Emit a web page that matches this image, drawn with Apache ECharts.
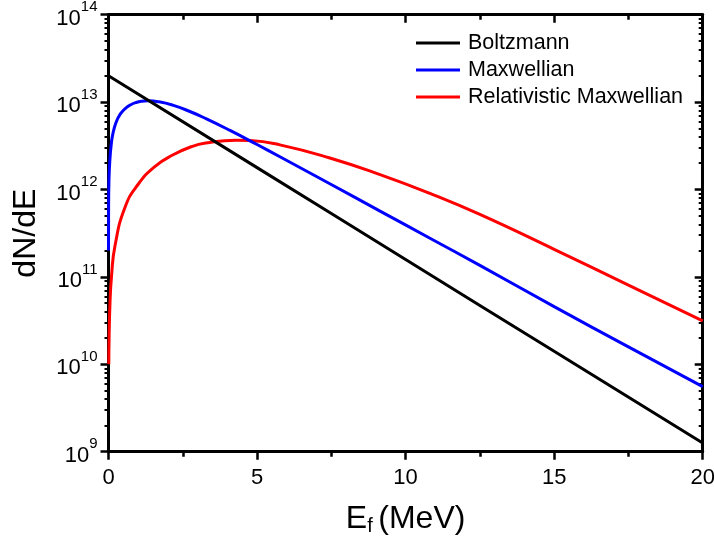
<!DOCTYPE html>
<html>
<head>
<meta charset="utf-8">
<script src="https://cdn.jsdelivr.net/npm/echarts@6/dist/echarts.min.js"></script>
<style>
  html, body { margin: 0; padding: 0; background: #fff; }
  #chart { width: 714px; height: 539px; }
</style>
</head>
<body>
<div id="chart"></div>
<script>
// ---- data ----
const boltzmannE = [0, 5, 10, 15, 20];
const boltzmannN = [2.0e13, 1.78e12, 1.58e11, 1.41e10, 1.26e9];

const maxwellE = [0.0004, 0.003, 0.015, 0.05, 0.1, 0.14, 0.25, 0.4, 0.59, 0.75, 0.93, 1.1, 1.32, 1.7, 2.16, 2.7, 3.28, 4.09, 5.0, 5.77, 7.45, 9.14, 10.82, 12.5, 15, 17.5, 20];
const maxwellN = [2.0e11, 5.6e11, 1.26e12, 2.29e12, 3.47e12, 4.22e12, 5.82e12, 7.33e12, 8.61e12, 9.33e12, 9.89e12, 1.021e13, 1.035e13, 1.007e13, 9.23e12, 7.91e12, 6.47e12, 4.74e12, 3.27e12, 2.37e12, 1.164e12, 5.66e11, 2.77e11, 1.355e11, 4.57e10, 1.585e10, 5.55e9];

const relE = [0.01, 0.02, 0.05, 0.1, 0.22, 0.56, 1.0, 1.57, 2.16, 2.8, 3.28, 4.29, 4.76, 5.77, 7.45, 9.14, 10.82, 12.5, 15, 17.5, 20];
const relN = [1.0e10, 2.0e10, 5.0e10, 1.0e11, 2.29e11, 6.31e11, 1.148e12, 1.84e12, 2.48e12, 3.10e12, 3.40e12, 3.66e12, 3.63e12, 3.24e12, 2.29e12, 1.48e12, 9.02e11, 5.19e11, 2.07e11, 8.04e10, 3.14e10];

const seriesNames = ['Boltzmann', 'Maxwellian', 'Relativistic Maxwellian'];
const seriesColors = ['#000000', '#0000ff', '#ff0000'];

const xMin = 0, xMax = 20, xInterval = 5;
const yMin = 1e9, yMax = 1e14;

const FONT = 'Liberation Sans, Arial, sans-serif';
const pairs = (xs, ys) => xs.map((x, i) => [x, ys[i]]);

const chart = echarts.init(document.getElementById('chart'), null, { renderer: 'canvas' });

const axisLine = { show: true, onZero: false, lineStyle: { color: '#000', width: 3 } };
const majorTick = (inside) => ({ show: true, inside: inside, length: 8, lineStyle: { color: '#000', width: 2.5 } });
const xMinor = { show: true, splitNumber: 2, length: 5, lineStyle: { color: '#000', width: 2.5 } };
const yMinor = { show: true, splitNumber: 9, length: 4, lineStyle: { color: '#000', width: 2 } };

const option = {
  animation: false,
  backgroundColor: '#ffffff',
  textStyle: { fontFamily: FONT },
  grid: { left: 108.5, right: 11.3, top: 14.7, bottom: 87.3, containLabel: false, outerBoundsMode: 'none' },
  legend: {
    orient: 'vertical',
    left: 416,
    top: 32,
    padding: 0,
    itemGap: 5,
    itemWidth: 44,
    itemHeight: 3,
    icon: 'rect',
    data: seriesNames,
    textStyle: { fontFamily: FONT, fontSize: 21.5, lineHeight: 21, color: '#000', padding: [0, 0, 0, 3] }
  },
  xAxis: [
    {
      type: 'value', position: 'bottom', min: xMin, max: xMax, interval: xInterval,
      axisLine: axisLine,
      axisTick: majorTick(false),
      minorTick: xMinor,
      splitLine: { show: false },
      axisLabel: { margin: 15, color: '#000', fontSize: 22, fontFamily: FONT },
      name: '{e|E}{f|f }{m|(MeV)}',
      nameLocation: 'middle',
      nameGap: 51,
      nameTextStyle: {
        color: '#000', fontFamily: FONT,
        rich: {
          e: { fontSize: 32, lineHeight: 32, verticalAlign: 'top', fontFamily: FONT, color: '#000' },
          f: { fontSize: 20, lineHeight: 20, verticalAlign: 'top', padding: [14, 0, 0, 0], fontFamily: FONT, color: '#000' },
          m: { fontSize: 32, lineHeight: 32, verticalAlign: 'top', fontFamily: FONT, color: '#000' }
        }
      }
    },
    {
      type: 'value', position: 'top', min: xMin, max: xMax, interval: xInterval,
      axisLine: axisLine,
      axisTick: majorTick(true),
      minorTick: xMinor,
      splitLine: { show: false },
      axisLabel: { show: false }
    }
  ],
  yAxis: [
    {
      type: 'log', logBase: 10, position: 'left', min: yMin, max: yMax,
      axisLine: axisLine,
      axisTick: majorTick(false),
      minorTick: yMinor,
      splitLine: { show: false },
      axisLabel: {
        margin: 11,
        formatter: function (v) {
          const e = Math.round(Math.log10(v));
          return '{b|10}{s|' + e + '}';
        },
        rich: {
          b: { fontSize: 22, lineHeight: 30, verticalAlign: 'bottom', color: '#000', fontFamily: FONT },
          s: { fontSize: 15, lineHeight: 15, verticalAlign: 'top', color: '#000', fontFamily: FONT }
        }
      },
      name: 'dN/dE',
      nameLocation: 'middle',
      nameGap: 66,
      nameRotate: 90,
      nameTextStyle: { fontSize: 32, lineHeight: 32, color: '#000', fontFamily: FONT }
    },
    {
      type: 'log', logBase: 10, position: 'right', min: yMin, max: yMax,
      axisLine: axisLine,
      axisTick: majorTick(true),
      minorTick: yMinor,
      axisLabel: { show: false },
      splitLine: { show: false }
    }
  ],
  series: [
    { name: seriesNames[0], data: pairs(boltzmannE, boltzmannN) },
    { name: seriesNames[1], data: pairs(maxwellE, maxwellN) },
    { name: seriesNames[2], data: pairs(relE, relN) }
  ].map((s, i) => Object.assign({
    type: 'line',
    xAxisIndex: 0,
    yAxisIndex: 0,
    showSymbol: false,
    symbol: 'none',
    smooth: 0.5,
    clip: true,
    color: seriesColors[i],
    lineStyle: { color: seriesColors[i], width: 3 },
    z: 3 - i
  }, s))
};

chart.setOption(option);
</script>
</body>
</html>
